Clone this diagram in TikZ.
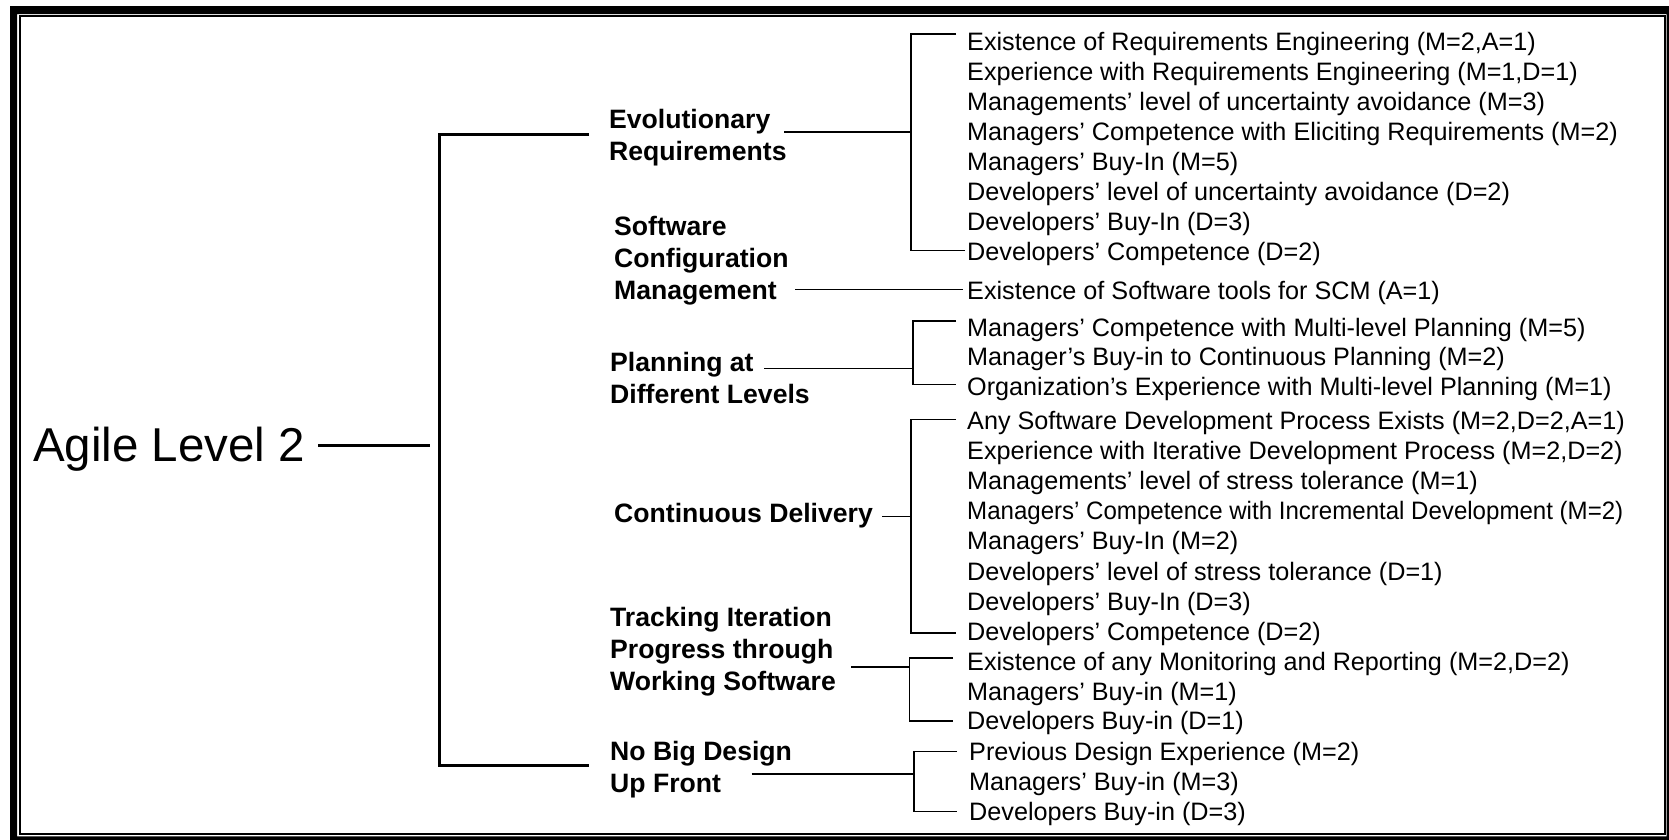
\documentclass[tikz,border=0pt]{standalone}
\usepackage{fontspec}
\setmainfont{Liberation Sans}
\usetikzlibrary{calc}
\begin{document}
\begin{tikzpicture}[x=1pt,y=-1pt,
  leaf/.style={anchor=base west,inner sep=0pt,font=\fontsize{25.2}{29}\selectfont},
  cat/.style={anchor=west,inner sep=0pt,align=left,font=\fontsize{26.6}{32}\selectfont\bfseries},
  thinline/.style={line width=1.4pt},
  mainline/.style={line width=3pt}]
\useasboundingbox (0,0) rectangle (1669,839);
% frame
\fill[black,even odd rule] (10,6) rectangle (1675,845) (17,14) rectangle (1666.5,836.3);
\draw[line width=2pt] (20,16.3) rectangle (1664.5,834.3);

% root
\node[anchor=base west,inner sep=0pt,font=\fontsize{47.5}{56}\selectfont] (root) at (33,461) {Agile Level 2};
\coordinate (mA) at (430,445.5);
\coordinate (mT) at (439,134);
\coordinate (mB) at (439,765.3);

% categories
\node[cat] (ER)  at (609,138)   {Evolutionary\\Requirements};
\node[cat] (SCM) at (614,260.7) {Software\\Configuration\\Management};
\node[cat] (PDL) at (610,378)   {Planning at\\Different Levels};
\node[cat] (CD)  at (614,516)   {Continuous Delivery};
\node[cat] (TIP) at (610,651.5) {Tracking Iteration\\Progress through\\Working Software};
\node[cat] (NBD) at (610,770)   {No Big Design\\Up Front};

\draw[mainline] ($(root.east|-mA)+(13,0)$) -- (mA);
\draw[mainline] ($(ER.west|-mT)+(-20,0)$) -- (mT) -- (mB) -- ($(NBD.west|-mB)+(-21,0)$);

% leaves
\node[leaf] (l1)  at (967,50.7)  {Existence of Requirements Engineering (M=2,A=1)};
\node[leaf] (l2)  at (967,80.7)  {Experience with Requirements Engineering (M=1,D=1)};
\node[leaf] (l3)  at (967,110.7) {Managements’ level of uncertainty avoidance (M=3)};
\node[leaf] (l4)  at (967,140.7) {Managers’ Competence with Eliciting Requirements (M=2)};
\node[leaf] (l5)  at (967,170.7) {Managers’ Buy-In (M=5)};
\node[leaf] (l6)  at (967,200.7) {Developers’ level of uncertainty avoidance (D=2)};
\node[leaf] (l7)  at (967,230.7) {Developers’ Buy-In (D=3)};
\node[leaf] (l8)  at (967,260.7) {Developers’ Competence (D=2)};
\node[leaf] (l9)  at (967,299.3) {Existence of Software tools for SCM (A=1)};
\node[leaf] (l10) at (967,336)   {Managers’ Competence with Multi-level Planning (M=5)};
\node[leaf] (l11) at (967,365)   {Manager’s Buy-in to Continuous Planning (M=2)};
\node[leaf] (l12) at (967,395)   {Organization’s Experience with Multi-level Planning (M=1)};
\node[leaf] (l13) at (967,429.3) {Any Software Development Process Exists (M=2,D=2,A=1)};
\node[leaf] (l14) at (967,459.3) {Experience with Iterative Development Process (M=2,D=2)};
\node[leaf] (l15) at (967,489.3) {Managements’ level of stress tolerance (M=1)};
\node[leaf] (l16) at (967,519.3) {\scalebox{0.955}[1]{Managers’ Competence with Incremental Development (M=2)}};
\node[leaf] (l17) at (967,549.3) {Managers’ Buy-In (M=2)};
\node[leaf] (l18) at (967,580)   {Developers’ level of stress tolerance (D=1)};
\node[leaf] (l19) at (967,610.7) {Developers’ Buy-In (D=3)};
\node[leaf] (l20) at (967,640.7) {Developers’ Competence (D=2)};
\node[leaf] (l21) at (967,670.7) {Existence of any Monitoring and Reporting (M=2,D=2)};
\node[leaf] (l22) at (967,700)   {Managers’ Buy-in (M=1)};
\node[leaf] (l23) at (967,729.3) {Developers Buy-in (D=1)};
\node[leaf] (l24) at (969,760.7) {Previous Design Experience (M=2)};
\node[leaf] (l25) at (969,790)   {Managers’ Buy-in (M=3)};
\node[leaf] (l26) at (969,820)   {Developers Buy-in (D=3)};

% bracket coordinates
\coordinate (erT) at (911,34);    \coordinate (erB) at (911,250.5);
\coordinate (erI) at (911,132);   \coordinate (erS) at (784,132);
\coordinate (scS) at (795,289.3);
\coordinate (pdT) at (913,321);   \coordinate (pdB) at (913,384.3);
\coordinate (pdI) at (913,368.3); \coordinate (pdS) at (764,368.3);
\coordinate (cdT) at (911,419.3); \coordinate (cdB) at (911,633);
\coordinate (cdI) at (911,516.5); \coordinate (cdS) at (882,516.5);
\coordinate (tpT) at (909.5,658); \coordinate (tpB) at (909.5,721);
\coordinate (tpI) at (909.5,667); \coordinate (tpS) at (851,667);
\coordinate (nbT) at (914,751.5); \coordinate (nbB) at (914,811.5);
\coordinate (nbI) at (914,774);   \coordinate (nbS) at (751.5,774);

% Evolutionary Requirements
\draw[thinline] ($(l1.west|-erT)+(-11,0)$) -- (erT) -- (erB) -- ($(l8.west|-erB)+(-2,0)$);
\draw[thinline] (erS) -- (erI);
% SCM
\draw[thinline] (scS) -- ($(l9.west|-scS)+(-4,0)$);
% Planning
\draw[thinline] ($(l10.west|-pdT)+(-11,0)$) -- (pdT) -- (pdB) -- ($(l12.west|-pdB)+(-11,0)$);
\draw[thinline] (pdS) -- (pdI);
% Continuous Delivery
\draw[thinline] ($(l13.west|-cdT)+(-11,0)$) -- (cdT) -- (cdB) -- ($(l20.west|-cdB)+(-11,0)$);
\draw[thinline] (cdS) -- (cdI);
% Tracking
\draw[thinline] ($(l21.west|-tpT)+(-14,0)$) -- (tpT) -- (tpB) -- ($(l23.west|-tpB)+(-14,0)$);
\draw[thinline] (tpS) -- (tpI);
% No Big Design
\draw[thinline] ($(l24.west|-nbT)+(-12,0)$) -- (nbT) -- (nbB) -- ($(l26.west|-nbB)+(-12,0)$);
\draw[thinline] (nbS) -- (nbI);
\end{tikzpicture}
\end{document}
